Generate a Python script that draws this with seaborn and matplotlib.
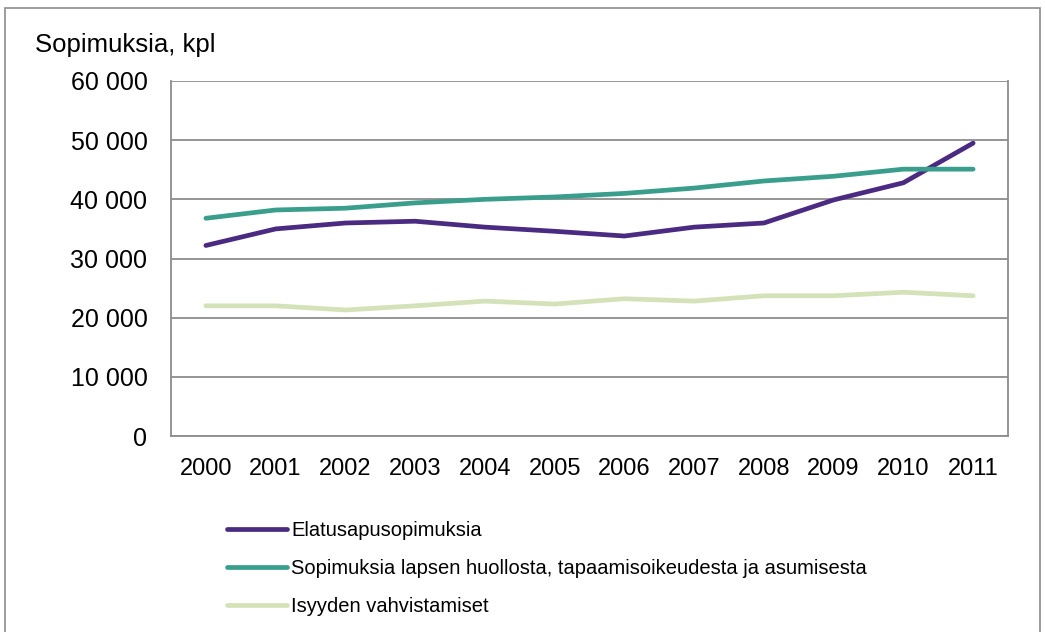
import numpy as np
import pandas as pd
import matplotlib
matplotlib.use("Agg")
import matplotlib.pyplot as plt
import matplotlib.ticker as mticker
from matplotlib.patches import Rectangle
import seaborn as sns

years = list(range(2000, 2012))
elatusapu = [32200, 35000, 36000, 36300, 35300, 34600, 33800, 35300, 36000, 39900, 42800, 49500]
huolto = [36800, 38200, 38500, 39400, 40000, 40400, 41000, 41900, 43100, 43900, 45100, 45100]
isyys = [22000, 22000, 21300, 22000, 22800, 22300, 23200, 22800, 23700, 23700, 24300, 23700]

names = ["Elatusapusopimuksia",
         "Sopimuksia lapsen huollosta, tapaamisoikeudesta ja asumisesta",
         "Isyyden vahvistamiset"]
colors = ["#4B2A82", "#3A9E8C", "#D3E2B8"]

rows = []
for name, vals in zip(names, [elatusapu, huolto, isyys]):
    for i, (y, v) in enumerate(zip(years, vals)):
        rows.append({"pos": i, "year": y, "value": v, "series": name})
df = pd.DataFrame(rows)

sns.set_style("white")
plt.rcParams['font.family'] = ['Liberation Sans', 'DejaVu Sans']
plt.rcParams['text.color'] = 'black'
plt.rcParams['xtick.color'] = 'black'
plt.rcParams['ytick.color'] = 'black'

fig = plt.figure(figsize=(10.45, 6.32), dpi=100)
ax = fig.add_axes([171/1045, 1-436/632, (1008-171)/1045, (436-81)/632])

sns.lineplot(data=df, x="pos", y="value", hue="series", hue_order=names,
             palette=colors, linewidth=3.4, ax=ax, legend=True,
             solid_capstyle="round")

grid_c = "#8C8C8C"
ax.set_xlim(-0.5, 11.5)
ax.set_ylim(0, 60000)
ax.set_yticks(range(0, 60001, 10000))
ax.yaxis.set_major_formatter(mticker.FuncFormatter(lambda v, p: f"{int(v):,}".replace(",", " ")))
ax.set_xticks(range(12))
ax.set_xticklabels([str(y) for y in years])
ax.set_xticks(np.arange(-0.5, 12, 1), minor=True)
ax.tick_params(axis="x", which="major", length=0, pad=16, labelsize=17, labelcolor="black")
ax.tick_params(axis="x", which="minor", length=7, color=grid_c, width=1.2, direction="out")
ax.tick_params(axis="y", length=7, color=grid_c, width=1.2, direction="out", labelsize=18,
               pad=10, labelcolor="black")
ax.yaxis.grid(True, color=grid_c, linewidth=1.3)
ax.set_axisbelow(True)
for side in ["left", "bottom", "right"]:
    ax.spines[side].set_color(grid_c)
    ax.spines[side].set_linewidth(1.3)
ax.spines["top"].set_visible(False)
ax.set_xlabel("")
ax.set_ylabel("")

handles, labels = ax.get_legend_handles_labels()
ax.get_legend().remove()
fig.legend(handles, labels, loc="upper left", bbox_to_anchor=(227/1045, 1-521/632),
           frameon=False, fontsize=14.5, handlelength=3.0, handletextpad=0.2,
           labelspacing=0.95, borderaxespad=0, borderpad=0, labelcolor="black")

fig.text(35/1045, 1-45/632, "Sopimuksia, kpl", fontsize=18.5, va="center", ha="left",
         color="black")

fig.patches.append(Rectangle((5/1045, -0.05), 1035/1045, 1.05 - 8/632,
                             transform=fig.transFigure, fill=False,
                             edgecolor="#8C8C8C", linewidth=1.2))

plt.savefig("out.png", dpi=100)
